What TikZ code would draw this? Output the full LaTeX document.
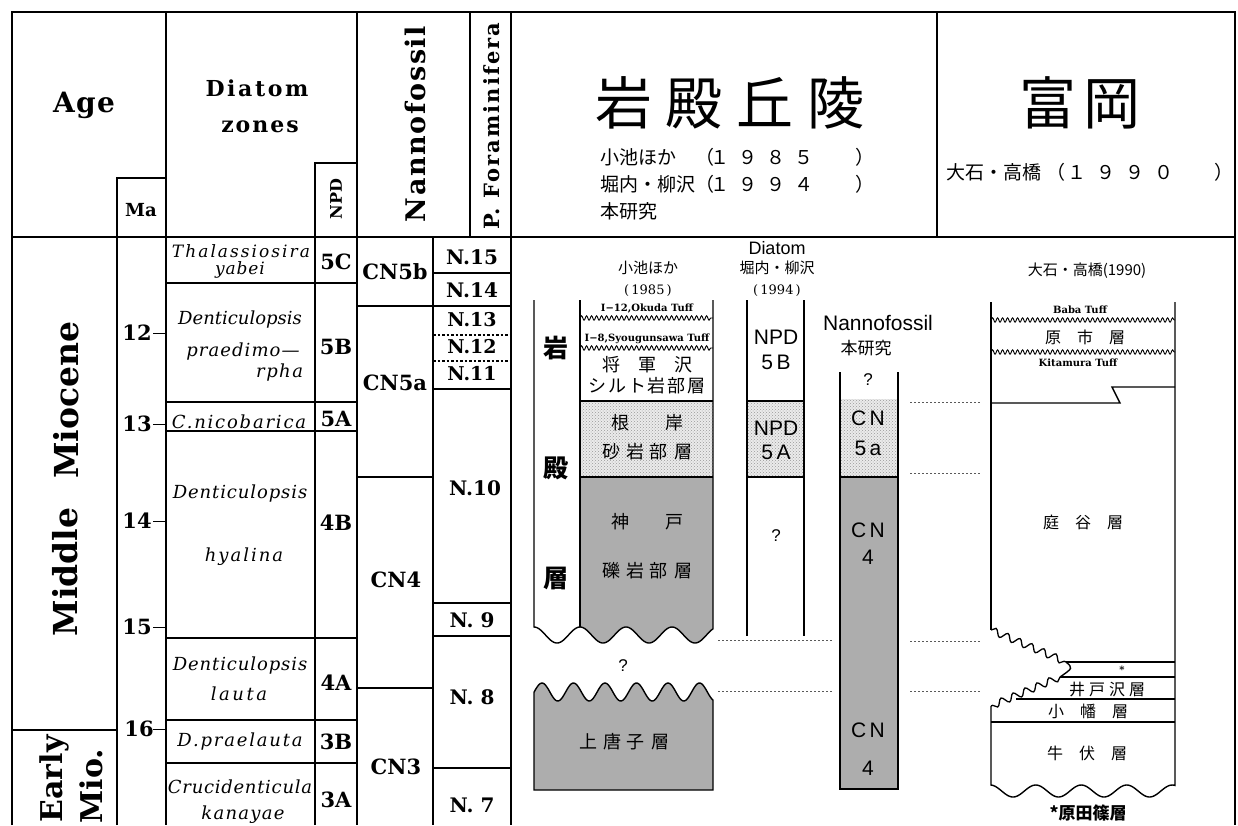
\documentclass[tikz,border=0pt]{standalone}
\usepackage{fontspec}
\setmainfont{DejaVu Serif}
\newfontfamily\lsans{Liberation Sans}
\newfontfamily\jp{Noto Sans CJK JP}
\usetikzlibrary{patterns,decorations.pathmorphing}
\newcommand{\fs}[1]{\fontsize{#1}{#1}\selectfont}
\newcommand{\cb}[2]{\makebox[#1]{#2}}
\newcommand{\gp}[1]{\hspace{#1pt}}
\newcommand{\ls}[1]{\addfontfeature{LetterSpace=#1}}
\begin{document}
\begin{tikzpicture}[x=1pt,y=-1pt,
  tx/.style={inner sep=0pt,outer sep=0pt},
  rule/.style={line width=1.4pt},
  frame/.style={line width=2.6pt},
  dotl/.style={line width=0.9pt,dash pattern=on 2pt off 2pt,black!65},
  tuff/.style={line width=0.9pt,decorate,decoration={snake,segment length=5pt,amplitude=2.2pt}},
  wav/.style={line width=1.3pt,decorate,decoration={snake,segment length=13pt,amplitude=3.5pt}},
  stip/.style={fill=black!8,postaction={pattern=crosshatch dots,pattern color=black!40}},
  grayf/.style={fill=black!32},
  tick/.style={tx,font=\fs{21}\bfseries},
  dz/.style={tx,font=\fs{18}\itshape},
  zn/.style={tx,font=\fs{21}\bfseries},
  jt/.style={tx,font=\jp\fs{18}},
  jr/.style={tx,font=\jp\fs{16}},
  ss/.style={tx,font=\lsans\fs{21}},
  tl/.style={tx,font=\fs{10}\bfseries}]
\useasboundingbox (0,0) rectangle (1238,825);
\fill[white] (0,0) rectangle (1238,825);

% ---------- table frame ----------
\draw[frame] (12,825) -- (12,12) -- (1235,12) -- (1235,825);
\draw[frame] (12,237) -- (1235,237);
\draw[rule] (166,12) -- (166,825);
\draw[rule] (357,12) -- (357,825);
\draw[rule] (470,12) -- (470,237);
\draw[rule] (511,12) -- (511,825);
\draw[rule] (937,12) -- (937,237);
\draw[rule] (117,825) -- (117,178) -- (166,178);
\draw[rule] (315,825) -- (315,163) -- (357,163);
\draw[rule] (433,237) -- (433,825);
\draw[rule] (12,730) -- (117,730);
\foreach \yy in {283,402,431,638,720,763} \draw[rule] (166,\yy) -- (357,\yy);
\foreach \yy in {306,477,688} \draw[rule] (357,\yy) -- (433,\yy);
\foreach \yy in {273,306,389,603,636,768} \draw[rule] (433,\yy) -- (511,\yy);
\foreach \yy in {335,361} \draw[line width=1.3pt,dash pattern=on 2.5pt off 2pt] (433,\yy) -- (511,\yy);
\foreach \yy in {333,424,521,627,729} \draw[line width=1pt] (153,\yy) -- (166,\yy);

% ---------- header texts ----------
\node[tx,font=\fs{28}\bfseries\ls{5}] (age) at (84,105) {Age};
\node[tx,font=\fs{22}\bfseries\ls{12}] (diat) at (257,88) {Diatom};
\node[tx,font=\fs{22}\bfseries\ls{9}] (zones) at (260,127) {zones};
\node[tx,font=\fs{18}\bfseries] (ma) at (141,210) {Ma};
\node[tx,rotate=90,font=\fs{16}\bfseries] (npd) at (336,199) {NPD};
\node[tx,rotate=90,font=\fs{27}\bfseries\ls{6}] (nanno) at (415,124) {Nannofossil};
\node[tx,rotate=90,font=\fs{21}\bfseries\ls{10}] (foram) at (492,126) {P. Foraminifera};

\node[tx,font=\jp\fs{57}] (iwa) at (730,103) {\cb{71pt}{岩}\cb{71pt}{殿}\cb{71pt}{丘}\cb{71pt}{陵}};
\node[tx,anchor=west,font=\jp\fs{19}] (r1) at (600,157) {\makebox[95pt][l]{小池ほか}\makebox[11pt][l]{（}\cb{28pt}{１}\cb{28pt}{９}\cb{28pt}{８}\cb{28pt}{５}\makebox[56pt][r]{）}};
\node[tx,anchor=west,font=\jp\fs{19}] (r2) at (600,184) {\makebox[95pt][l]{堀内・柳沢}\makebox[11pt][l]{（}\cb{28pt}{１}\cb{28pt}{９}\cb{28pt}{９}\cb{28pt}{４}\makebox[56pt][r]{）}};
\node[tx,anchor=west,font=\jp\fs{19}] (r3) at (600,211) {本研究};
\node[tx,font=\jp\fs{57}] (tomi) at (1080,103) {\cb{64pt}{富}\cb{64pt}{岡}};
\node[tx,anchor=west,font=\jp\fs{19}] (r4) at (946,172) {\makebox[100pt][l]{大石・高橋}\makebox[16pt][l]{（}\cb{29pt}{１}\cb{29pt}{９}\cb{29pt}{９}\cb{29pt}{０}\makebox[55pt][r]{）}};

% ---------- age column ----------
\node[tx,rotate=90,anchor=base,font=\fs{33}\bfseries] (mioc) at (78,400) {Miocene};
\node[tx,rotate=90,anchor=base,font=\fs{33}\bfseries] (midd) at (77,572) {Middle};
\node[tx,rotate=90,anchor=base,font=\fs{30}\bfseries] (early) at (62,779) {Early};
\node[tx,rotate=90,anchor=base,font=\fs{30}\bfseries] (mio) at (102,786) {Mio.};
\node[tick] (m12) at (137,333) {12};
\node[tick] (m13) at (137,424) {13};
\node[tick] (m14) at (137,521) {14};
\node[tick] (m15) at (137,627) {15};
\node[tick] (m16) at (139,729) {16};

% ---------- diatom zones ----------
\node[dz,font=\fs{17}\itshape\ls{12}] (d1a) at (241,251) {Thalassiosira};
\node[dz,font=\fs{17}\itshape\ls{5}] (d1b) at (240,270) {yabei};
\node[dz] (d2a) at (240,320) {Denticulopsis};
\node[dz,font=\fs{18}\itshape\ls{6}] (d2b) at (243,352) {praedimo—};
\node[dz,font=\fs{18}\itshape\ls{8},anchor=east] (d2c) at (303,373) {rpha};
\node[dz,font=\fs{18}\itshape\ls{10}] (d3) at (239,422) {C.nicobarica};
\node[dz,font=\fs{18}\itshape\ls{5}] (d4a) at (240,494) {Denticulopsis};
\node[dz,font=\fs{18}\itshape\ls{11}] (d4b) at (244,557) {hyalina};
\node[dz,font=\fs{18}\itshape\ls{5}] (d5a) at (240,666) {Denticulopsis};
\node[dz,font=\fs{18}\itshape\ls{14}] (d5b) at (239,694) {lauta};
\node[dz,font=\fs{18}\itshape\ls{10}] (d6) at (240,742) {D.praelauta};
\node[dz,font=\fs{18}\itshape\ls{4}] (d7a) at (240,787) {Crucidenticula};
\node[dz,font=\fs{18}\itshape\ls{7}] (d7b) at (243,815) {kanayae};
\node[zn] (n5c) at (336,262) {5C};
\node[zn] (n5b) at (336,347) {5B};
\node[zn] (n5a) at (336,419) {5A};
\node[zn] (n4b) at (336,523) {4B};
\node[zn] (n4a) at (336,683) {4A};
\node[zn] (n3b) at (336,742) {3B};
\node[zn] (n3a) at (336,800) {3A};
% nannofossil
\node[zn] (cn5b) at (395,272) {CN5b};
\node[zn] (cn5a) at (395,383) {CN5a};
\node[zn] (cn4) at (396,580) {CN4};
\node[zn] (cn3) at (396,767) {CN3};
% foraminifera
\node[zn,font=\fs{20}\bfseries] (f15) at (472,257) {N.15};
\node[zn,font=\fs{20}\bfseries] (f14) at (472,290) {N.14};
\node[zn,font=\fs{19}\bfseries] (f13) at (472,320) {N.13};
\node[zn,font=\fs{19}\bfseries] (f12) at (472,347) {N.12};
\node[zn,font=\fs{19}\bfseries] (f11) at (472,374) {N.11};
\node[zn,font=\fs{20}\bfseries] (f10) at (475,488) {N.10};
\node[zn,font=\fs{20}\bfseries] (f9) at (472,620) {N. 9};
\node[zn,font=\fs{20}\bfseries] (f8) at (472,697) {N. 8};
\node[zn,font=\fs{20}\bfseries] (f7) at (472,805) {N. 7};

% ---------- 岩殿 columns ----------
\node[tx,font=\jp\fs{15}] (kh1) at (648,268) {小池ほか};
\node[tx,font=\fs{13}] (kh2) at (648,291) {(\,1985\,)};
\node[tx,font=\lsans\fs{18}] (dh0) at (777,248) {Diatom};
\node[tx,font=\jp\fs{15}] (dh1) at (777,268) {堀内・柳沢};
\node[tx,font=\fs{13}] (dh2) at (777,291) {(\,1994\,)};
\node[tx,font=\lsans\fs{21}] (nh0) at (878,323) {Nannofossil};
\node[tx,font=\jp\fs{17}] (nh1) at (866,348) {本研究};

% upper block (Iwadono formation)
\fill[stip] (580,401) rectangle (713,477);
\fill[grayf] (580,477) -- (713,477) -- plot[domain=713:580,samples=90] (\x,{635+8*cos(((\x-557)/46)*360)}) -- cycle;
\draw[rule] (534,300) -- plot[domain=534:713,samples=140] (\x,{635+8*cos(((\x-557)/46)*360)}) -- (713,300);
\draw[rule] (580,300) -- (580,627);
\draw[rule] (580,401) -- (713,401);
\draw[rule] (580,477) -- (713,477);
\draw[tuff] (580,318) -- (713,318);
\draw[tuff] (580,348) -- (713,348);
\node[tl] (ok) at (647,309) {I−12,Okuda Tuff};
\node[tl] (sy) at (647,339) {I−8,Syougunsawa Tuff};
\node[jt] (k1) at (647,365) {将　軍　沢};
\node[jt,font=\jp\fs{18}\ls{10}] (k2) at (647,386) {シルト岩部層};
\node[jt] (k3) at (647,423) {根　　岸};
\node[jt] (k4) at (647,452) {砂\gp{6}岩\gp{6}部\gp{6}層};
\node[jt] (k5) at (647,522) {神　　戸};
\node[jt] (k6) at (647,571) {礫\gp{6}岩\gp{6}部\gp{6}層};
\node[tx,font=\jp\bfseries\fs{25}] (c1) at (556,348) {岩};
\node[tx,font=\jp\bfseries\fs{25}] (c2) at (556,468) {殿};
\node[tx,font=\jp\bfseries\fs{25}] (c3) at (556,578) {層};
\node[tx,font=\lsans\fs{17}] (q1) at (623,666) {?};
% lower block
\filldraw[rule,grayf] (534,790) -- plot[domain=534:713,samples=140] (\x,{692-9*cos(((\x-542)/31.5)*360)}) -- (713,790) -- cycle;
\node[jt] (kk) at (624,742) {上\gp{6}唐\gp{6}子\gp{6}層};

% diatom column
\fill[stip] (747,401) rectangle (804,477);
\draw[rule] (747,300) -- (747,636);
\draw[rule] (804,300) -- (804,636);
\draw[rule] (747,401) -- (804,401);
\draw[rule] (747,477) -- (804,477);
\node[ss] (p1) at (776,337) {NPD};
\node[ss] (p2) at (776,362) {5\,B};
\node[ss] (p3) at (776,428) {NPD};
\node[ss] (p4) at (776,452) {5\,A};
\node[ss,font=\lsans\fs{17}] (p5) at (776,536) {?};

% nannofossil column
\fill[stip] (840,399) rectangle (898,477);
\fill[grayf] (840,477) rectangle (898,789);
\draw[rule] (840,372) -- (840,789) -- (898,789) -- (898,372);
\draw[rule] (840,477) -- (898,477);
\node[ss,font=\lsans\fs{17}] (s0) at (868,380) {?};
\node[ss] (s1) at (868,418) {C\,N};
\node[ss] (s2) at (868,448) {5\,a};
\node[ss] (s3) at (868,530) {C\,N};
\node[ss] (s4) at (868,557) {4};
\node[ss] (s5) at (868,730) {C\,N};
\node[ss] (s6) at (868,768) {4};

% correlation dotted lines
\coordinate (a1) at (718,640); \coordinate (a2) at (833,640);
\coordinate (b1) at (718,691); \coordinate (b2) at (833,691);
\coordinate (c1a) at (910,402); \coordinate (c1b) at (980,402);
\coordinate (c2a) at (910,473); \coordinate (c2b) at (980,473);
\coordinate (c3a) at (910,641); \coordinate (c3b) at (980,641);
\coordinate (c4a) at (910,691); \coordinate (c4b) at (980,691);
\draw[dotl] (a1) -- (a2);
\draw[dotl] (b1) -- (b2);
\draw[dotl] (c1a) -- (c1b);
\draw[dotl] (c2a) -- (c2b);
\draw[dotl] (c3a) -- (c3b);
\draw[dotl] (c4a) -- (c4b);

% ---------- 富岡 column ----------
\node[tx,font=\jp\fs{15}] (oh) at (1087,271) {大石・高橋(1990)};
\draw[rule] (991,302) -- (991,630);
\draw[wav] (991,630) -- (1066,662);
\draw[rule] (1066,662) .. controls (1073,668) .. (1060,677);
\draw[wav] (1060,677) -- (991,706);
\draw[rule] (991,706) -- plot[domain=991:1175,samples=140] (\x,{791+6*cos(((\x-1013)/45.5)*360)}) -- (1175,302);
\draw[rule] (1066,662) -- (1175,662);
\draw[rule] (1060,677) -- (1175,677);
\draw[rule] (1016,699) -- (1175,699);
\draw[rule] (991,722) -- (1175,722);
\draw[rule] (1175,387) -- (1112,387) -- (1120,403) -- (991,403);
\draw[tuff] (991,320) -- (1175,320);
\draw[tuff] (991,352) -- (1175,352);
\node[tl] (bt) at (1080,310) {Baba Tuff};
\node[tl] (kt) at (1078,363) {Kitamura Tuff};
\node[jr] (t1) at (1085,337) {原　市　層};
\node[jr] (t2) at (1083,522) {庭　谷　層};
\node[tx,font=\fs{10}\bfseries] (t3) at (1122,670) {*};
\node[jr] (t4) at (1107,690) {井\gp{4}戸\gp{4}沢\gp{4}層};
\node[jr] (t5) at (1088,711) {小　幡　層};
\node[jr] (t6) at (1087,753) {牛　伏　層};
\node[tx,font=\jp\bfseries\fs{17}] (t7) at (1088,813) {*原田篠層};
\end{tikzpicture}
\end{document}
